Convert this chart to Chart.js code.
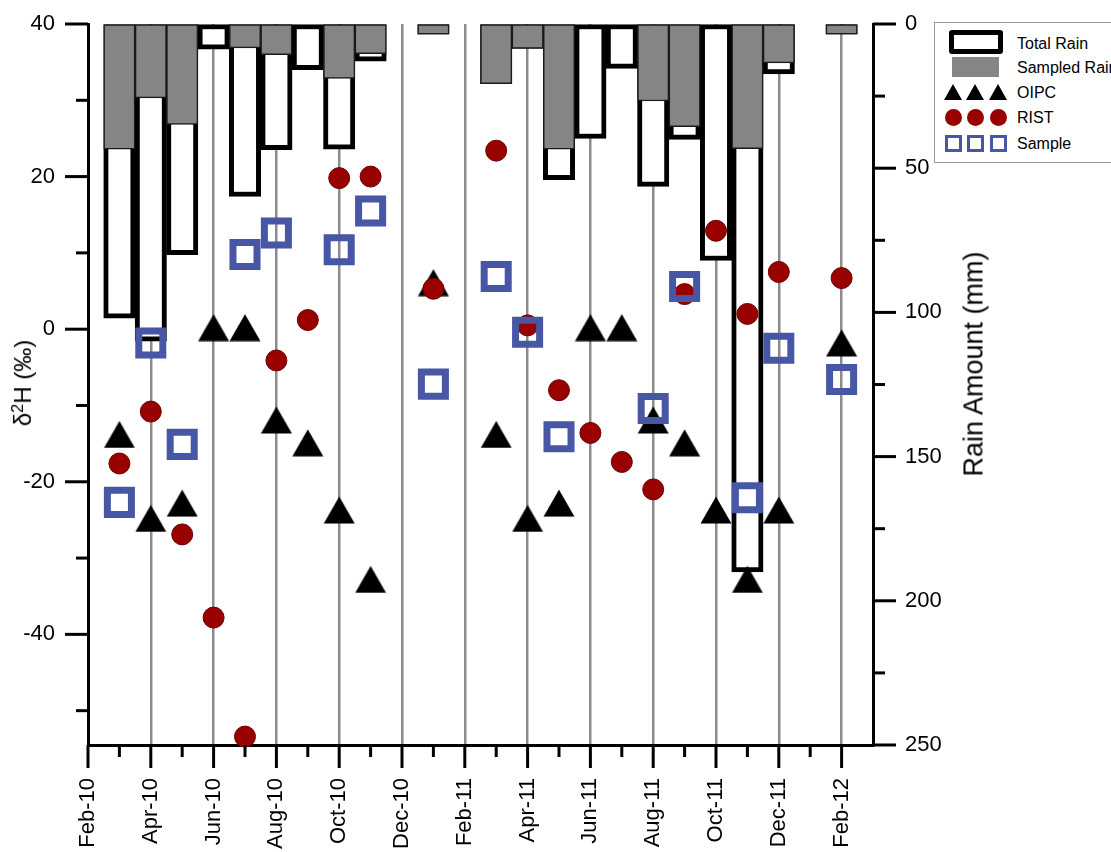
<!DOCTYPE html>
<html>
<head>
<meta charset="utf-8">
<script src="https://cdn.jsdelivr.net/npm/chart.js@4.4.1/dist/chart.umd.min.js"></script>
<style>
html,body{margin:0;padding:0;background:#fff;overflow:hidden;}
#wrap{position:relative;width:1111px;height:852px;overflow:hidden;font-family:'Liberation Sans',Arial,sans-serif;color:#000;}
#c{position:absolute;left:0;top:0;}
.ttl{position:absolute;white-space:nowrap;transform:translate(-50%,-50%) rotate(-90deg);line-height:1;}
#legend{position:absolute;left:934px;top:22px;width:220px;height:141px;border:1px solid #999;background:#fff;box-sizing:border-box;}
#legend .lt{position:absolute;left:82px;font-size:16px;line-height:20px;white-space:nowrap;}
#legend .sym{position:absolute;box-sizing:border-box;}
.tri{width:0;height:0;border-left:9px solid transparent;border-right:9px solid transparent;border-bottom:16px solid #000;}
.cir{width:17px;height:17px;border-radius:50%;background:#990000;}
.sq{width:17px;height:17px;border:3.5px solid #4757a5;background:transparent;}
</style>
</head>
<body>
<div id="wrap">
<canvas id="c" width="1111" height="852"></canvas>
<div class="ttl" style="left:22px;top:383px;font-size:24px;">δ<span style="font-size:0.68em;vertical-align:0.5em;">2</span>H (‰)</div>
<div class="ttl" style="left:974px;top:364px;font-size:27px;">Rain Amount (mm)</div>
<div id="legend">
  <div class="sym" style="left:14px;top:7px;width:54px;height:24px;border:5px solid #000;border-radius:3px;background:#fff;"></div>
  <div class="lt" style="top:11px;">Total Rain</div>
  <div class="sym" style="left:17px;top:34px;width:47px;height:20px;background:#858585;"></div>
  <div class="lt" style="top:35px;">Sampled Rain</div>
  <div class="sym tri" style="left:9px;top:61px;"></div>
  <div class="sym tri" style="left:31px;top:61px;"></div>
  <div class="sym tri" style="left:54px;top:61px;"></div>
  <div class="lt" style="top:60px;">OIPC</div>
  <div class="sym cir" style="left:10px;top:86px;"></div>
  <div class="sym cir" style="left:32px;top:86px;"></div>
  <div class="sym cir" style="left:55px;top:86px;"></div>
  <div class="lt" style="top:85px;">RIST</div>
  <div class="sym sq" style="left:10px;top:112px;"></div>
  <div class="sym sq" style="left:32px;top:112px;"></div>
  <div class="sym sq" style="left:55px;top:112px;"></div>
  <div class="lt" style="top:111px;">Sample</div>
</div>
</div>
<script>
// ---- data (months Mar-10 .. Feb-12) ----
const months = ['Mar-10','Apr-10','May-10','Jun-10','Jul-10','Aug-10','Sep-10','Oct-10','Nov-10','Dec-10','Jan-11','Feb-11',
                'Mar-11','Apr-11','May-11','Jun-11','Jul-11','Aug-11','Sep-11','Oct-11','Nov-11','Dec-11','Jan-12','Feb-12'];
const xTickLabels = ['Feb-10','Apr-10','Jun-10','Aug-10','Oct-10','Dec-10','Feb-11','Apr-11','Jun-11','Aug-11','Oct-11','Dec-11','Feb-12'];
const totalRain   = [102, 110, 80, 8.7, 59.8, 43.6, 15.8, 43.4, 12.9, null, 3.5, null,
                     20.7, 8.5, 54, 39.7, 15.4, 56.3, 40, 82, 190, 17.3, null, 3.5];
const sampledRain = [43.4, 25.6, 34.8, null, 8.3, 10.6, null, 18.9, 10.3, null, 3.5, null,
                     20.7, 8.5, 43.4, null, null, 26.7, 35.6, null, 43.2, 13.5, null, 3.5];
const oipc   = [-13.8, -24.8, -22.8, 0.2, 0.2, -11.9, -14.9, -23.7, -32.8, null, 6.1, null,
                -13.8, -24.8, -22.8, 0.2, 0.2, -11.9, -14.9, -23.7, -32.8, -23.7, null, -1.8];
const rist   = [-17.6, -10.8, -26.9, -37.8, -53.4, -4.1, 1.2, 19.8, 20.0, null, 5.3, null,
                23.4, 0.5, -8.0, -13.6, -17.4, -21.0, 4.6, 12.9, 2.0, 7.5, null, 6.7];
const sample = [-22.7, -1.8, -15.1, null, 9.8, 12.6, null, 10.4, 15.5, null, -7.2, null,
                6.9, -0.4, -14.1, null, null, -10.4, 5.6, null, -22.1, -2.5, null, -6.6];

// month offset from Feb-10 (axis origin)
const toXY = arr => arr.map((v, i) => v == null ? null : { x: i + 1, y: v }).filter(Boolean);

// triangle marker image centred on its bounding box
const tri = document.createElement('canvas');
tri.width = 32; tri.height = 28;
(function(){
  const g = tri.getContext('2d');
  g.fillStyle = '#000';
  g.beginPath(); g.moveTo(16, 0.5); g.lineTo(31.5, 27.5); g.lineTo(0.5, 27.5); g.closePath(); g.fill();
})();

const tickPlugin = {
  id: 'customTicks',
  afterDraw(chart) {
    const c = chart.ctx;
    const { x, y, y2 } = chart.scales;
    c.save();
    c.strokeStyle = '#000'; c.lineWidth = 3; c.lineCap = 'butt';
    const line = (a, b, d, e) => { c.beginPath(); c.moveTo(a, b); c.lineTo(d, e); c.stroke(); };
    x.ticks.forEach(t => {
      if (t.value > 24) return;
      const p = x.getPixelForValue(t.value);
      const L = t.value % 2 === 0 ? 23 : 12;
      line(p, x.top, p, x.top + L);
    });
    y.ticks.forEach(t => {
      const p = y.getPixelForValue(t.value);
      const L = t.value % 20 === 0 ? 23 : 12;
      line(y.right, p, y.right - L, p);
    });
    y2.ticks.forEach(t => {
      const p = y2.getPixelForValue(t.value);
      const L = t.value % 50 === 0 ? 23 : 12;
      line(y2.left, p, y2.left + L, p);
    });
    c.restore();
  }
};

const FONT = "'Liberation Sans', Arial, sans-serif";
Chart.defaults.font.family = FONT;
Chart.defaults.color = '#000';

new Chart(document.getElementById('c'), {
  type: 'bar',
  data: {
    datasets: [
      { label: 'Sample', type: 'line', showLine: false, data: toXY(sample), yAxisID: 'y',
        pointStyle: 'rect', pointRadius: 17, pointHoverRadius: 17, pointBorderWidth: 7, pointHoverBorderWidth: 7,
        pointBorderColor: '#4757a5', pointBackgroundColor: 'rgba(0,0,0,0)', borderColor: '#4757a5', order: 1, clip: false },
      { label: 'RIST', type: 'line', showLine: false, data: toXY(rist), yAxisID: 'y',
        pointStyle: 'circle', pointRadius: 10.5, pointHoverRadius: 10.5, pointBorderWidth: 1,
        pointBorderColor: '#6b0000', pointBackgroundColor: '#990000', borderColor: '#990000', order: 2, clip: false },
      { label: 'OIPC', type: 'line', showLine: false, data: toXY(oipc), yAxisID: 'y',
        pointStyle: tri, pointRadius: 16, pointHoverRadius: 16, borderColor: '#000', order: 3, clip: false },
      { label: 'Sampled Rain', data: toXY(sampledRain), yAxisID: 'y2', backgroundColor: '#858585',
        borderColor: '#1a1a1a', borderWidth: 1.5, borderSkipped: false, grouped: false,
        barPercentage: 1, categoryPercentage: 1, order: 4 },
      { label: 'Total Rain', data: toXY(totalRain), yAxisID: 'y2', backgroundColor: '#ffffff',
        borderColor: '#000', borderWidth: 5, borderSkipped: false, grouped: false,
        barPercentage: 1, categoryPercentage: 1, order: 5 }
    ]
  },
  options: {
    responsive: false,
    animation: false,
    events: [],
    layout: { padding: { top: 21, right: 138, bottom: 0, left: 0 } },
    plugins: { legend: { display: false }, tooltip: { enabled: false } },
    scales: {
      x: {
        type: 'linear', min: 0, max: 25, offset: false,
        grid: {
          offset: false, drawOnChartArea: true, drawTicks: true, tickLength: 23, tickColor: 'rgba(0,0,0,0)',
          lineWidth: 2.5,
          color: ctx => (ctx.tick && ctx.tick.value % 2 === 0 && ctx.tick.value > 0 && ctx.tick.value < 25) ? '#8c8c8c' : 'rgba(0,0,0,0)'
        },
        border: { display: true, color: '#000', width: 3 },
        ticks: {
          stepSize: 1, autoSkip: false, minRotation: 90, maxRotation: 90, padding: 10,
          font: { size: 22, family: FONT },
          callback: v => (v % 2 === 0 && v / 2 < xTickLabels.length) ? xTickLabels[v / 2] : ''
        },
        afterFit: s => { s.height = 107; }
      },
      y: {
        type: 'linear', position: 'left', min: -54.5, max: 40,
        grid: { drawOnChartArea: false, drawTicks: true, tickLength: 23, tickColor: 'rgba(0,0,0,0)' },
        border: { display: true, color: '#000', width: 3 },
        ticks: { stepSize: 10, includeBounds: false, padding: 10, font: { size: 22, family: FONT },
                 callback: v => (v % 20 === 0) ? String(v) : '' },
        afterFit: s => { s.width = 88; }
      },
      y2: {
        type: 'linear', position: 'right', min: 0, max: 250, reverse: true,
        grid: { drawOnChartArea: false, drawTicks: true, tickLength: 23, tickColor: 'rgba(0,0,0,0)' },
        border: { display: true, color: '#000', width: 3 },
        ticks: { stepSize: 25, padding: 9, font: { size: 22, family: FONT },
                 callback: v => (v % 50 === 0) ? String(v) : '' },
        afterFit: s => { s.width = 100; }
      }
    }
  },
  plugins: [tickPlugin]
});
</script>
</body>
</html>
